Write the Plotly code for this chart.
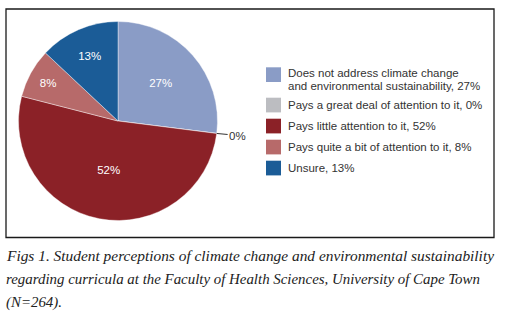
import math
import plotly.graph_objects as go

# ---- data ----
categories = [
    "Does not address climate change<br>and environmental sustainability",
    "Pays a great deal of attention to it",
    "Pays little attention to it",
    "Pays quite a bit of attention to it",
    "Unsure",
]
percentages = [27, 0, 52, 8, 13]
colors = ["#8a9cc6", "#bcbdc1", "#8b2127", "#b76a6a", "#1b5c97"]
caption_lines = [
    "Figs 1. Student perceptions of climate change and environmental sustainability",
    "regarding curricula at the Faculty of Health Sciences, University of Cape Town",
    "(N=264).",
]
caption_sizes = [15.4, 14.9, 14.9]

W, H = 505, 322

def px(x):
    return x / W

def py(y):
    return 1 - y / H

fig = go.Figure()

fig.add_trace(go.Pie(
    labels=[c.replace("<br>", " ") for c in categories],
    values=percentages,
    text=[f"{v}%" if v > 0 else "" for v in percentages],
    textinfo="text",
    textposition="inside",
    insidetextorientation="horizontal",
    insidetextfont=dict(family="Liberation Sans", size=11.5, color="white"),
    marker=dict(colors=colors, line=dict(color="white", width=0.4)),
    sort=False,
    direction="clockwise",
    rotation=0,
    showlegend=False,
    hoverinfo="label+percent",
    domain=dict(x=[px(118 - 99.5), px(118 + 99.5)], y=[py(220.5), py(21.5)]),
))

shapes = []
annotations = []

# frame
shapes.append(dict(type="rect", xref="paper", yref="paper",
                   x0=px(6), x1=px(494), y0=py(237.5), y1=py(9),
                   line=dict(color="#1a1a1a", width=1.3)))

# leader line + label for zero-value slice (position computed from data)
cx, cy, r = 118, 121, 99.5
cum = 0
for v in percentages:
    if v == 0:
        ang = math.radians(cum / sum(percentages) * 360)
        x0 = cx + r * math.sin(ang)
        y0 = cy - r * math.cos(ang)
        x1 = cx + (r + 11) * math.sin(ang)
        y1 = y0 + 1
        shapes.append(dict(type="line", xref="paper", yref="paper",
                           x0=px(x0), x1=px(x1), y0=py(y0), y1=py(y1),
                           line=dict(color="#333333", width=1)))
        annotations.append(dict(xref="paper", yref="paper", x=px(x1 - 1), y=py(y1 + 1.5),
                                xanchor="left", yanchor="middle",
                                text=f"{v}%", showarrow=False,
                                font=dict(family="Liberation Sans", size=11.5, color="#333333")))
    cum += v

# custom legend
y = 67.3
LINE = 13.5
for cat, v, col in zip(categories, percentages, colors):
    shapes.append(dict(type="rect", xref="paper", yref="paper",
                       x0=px(266), x1=px(281), y0=py(y + 14.7), y1=py(y),
                       fillcolor=col, line=dict(width=0)))
    lines = cat.split("<br>")
    lines[-1] = f"{lines[-1]}, {v}%"
    n = len(lines)
    for i, ln in enumerate(lines):
        yc = y + 7.5 + 4.5 * (n - 1) + (i - (n - 1) / 2) * LINE
        annotations.append(dict(xref="paper", yref="paper", x=px(286), y=py(yc),
                                xanchor="left", yanchor="middle", align="left",
                                text=ln, showarrow=False,
                                font=dict(family="Liberation Sans", size=11.5, color="#333333")))
    y += 21 + 9.4 * (n - 1)

# caption
for i, (line, fs) in enumerate(zip(caption_lines, caption_sizes)):
    annotations.append(dict(xref="paper", yref="paper", x=px(4), y=py(256 + 23 * i),
                            xanchor="left", yanchor="middle", align="left",
                            text=line, showarrow=False,
                            font=dict(family="Liberation Serif", size=fs,
                                      color="#222222", style="italic")))

fig.update_layout(
    width=W, height=H,
    margin=dict(l=0, r=0, t=0, b=0),
    paper_bgcolor="white", plot_bgcolor="white",
    shapes=shapes, annotations=annotations,
)

fig.write_html("out.html", config={"displayModeBar": False},
               post_script="document.body.style.margin='0';")
